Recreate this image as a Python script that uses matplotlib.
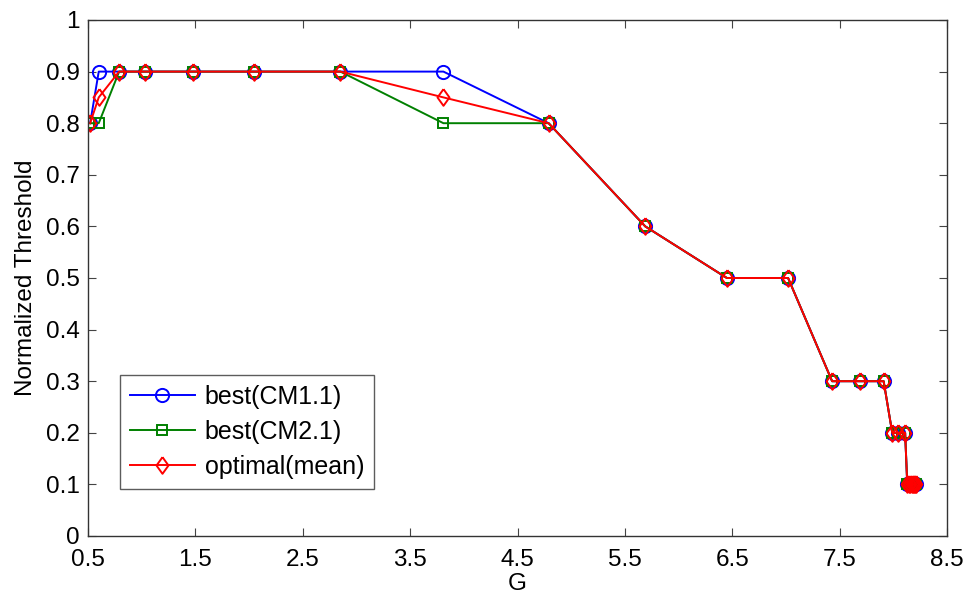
import numpy as np
import matplotlib
matplotlib.use('Agg')
import matplotlib.pyplot as plt

plt.rcParams['font.family'] = ['Liberation Sans', 'DejaVu Sans']

# G values along the curve and the threshold picked by each method
g = [0.52, 0.60, 0.79, 1.03, 1.48, 2.05, 2.85, 3.81, 4.79, 5.69, 6.45, 7.02,
     7.43, 7.69, 7.91, 7.99, 8.04, 8.11, 8.13, 8.15, 8.16, 8.17, 8.18, 8.19, 8.20, 8.21]
best_cm11 = [0.8, 0.9, 0.9, 0.9, 0.9, 0.9, 0.9, 0.9, 0.8, 0.6, 0.5, 0.5,
             0.3, 0.3, 0.3, 0.2, 0.2, 0.2, 0.1, 0.1, 0.1, 0.1, 0.1, 0.1, 0.1, 0.1]
best_cm21 = [0.8, 0.8, 0.9, 0.9, 0.9, 0.9, 0.9, 0.8, 0.8, 0.6, 0.5, 0.5,
             0.3, 0.3, 0.3, 0.2, 0.2, 0.2, 0.1, 0.1, 0.1, 0.1, 0.1, 0.1, 0.1, 0.1]
optimal_mean = [0.8, 0.85, 0.9, 0.9, 0.9, 0.9, 0.9, 0.85, 0.8, 0.6, 0.5, 0.5,
                0.3, 0.3, 0.3, 0.2, 0.2, 0.2, 0.1, 0.1, 0.1, 0.1, 0.1, 0.1, 0.1, 0.1]

xticks = [0.5, 1.5, 2.5, 3.5, 4.5, 5.5, 6.5, 7.5, 8.5]
yticks = np.round(np.arange(0, 1.01, 0.1), 1)

# wider diamond, closer to the MATLAB one
diamond = [(0, 1), (0.72, 0), (0, -1), (-0.72, 0), (0, 1)]

fig = plt.figure(figsize=(9.68, 5.96), dpi=100)
ax = fig.add_axes([88 / 968, 1 - 536 / 596, (947 - 88) / 968, (536 - 20) / 596])

lw = 1.4
ax.plot(g, best_cm11, color='#0000ff', marker='o', label='best(CM1.1)', linewidth=lw,
        markersize=9.5, markerfacecolor='none', markeredgewidth=lw)
ax.plot(g, best_cm21, color='#008000', marker='s', label='best(CM2.1)', linewidth=lw,
        markersize=7.5, markerfacecolor='none', markeredgewidth=lw)
ax.plot(g, optimal_mean, color='#ff0000', marker=diamond, label='optimal(mean)', linewidth=lw,
        markersize=12, markerfacecolor='none', markeredgewidth=lw)

ax.set_xlim(0.5, 8.5)
ax.set_ylim(0, 1)
ax.set_xticks(xticks)
ax.set_xticklabels([f'{t:g}' for t in xticks])
ax.set_yticks(yticks)
ax.set_yticklabels([f'{t:g}' for t in yticks])
ax.tick_params(direction='in', top=True, right=True, labelsize=17.5, length=6,
               width=0.8, color='#444444')
ax.tick_params(axis='x', pad=9)
ax.tick_params(axis='y', pad=6)
for s in ax.spines.values():
    s.set_linewidth(1.0)
    s.set_color('#333333')

ax.set_xlabel('G', fontsize=17.5, labelpad=2)
ax.set_ylabel('Normalized Threshold', fontsize=17.5, labelpad=6)

leg = ax.legend(loc='lower left', bbox_to_anchor=(0.037, 0.091), fontsize=18,
                frameon=True, fancybox=False, edgecolor='#333333',
                handlelength=2.6, borderpad=0.4, labelspacing=0.45,
                handletextpad=0.4, borderaxespad=0)
leg.get_frame().set_linewidth(1.0)

fig.savefig('out.png', dpi=100)
